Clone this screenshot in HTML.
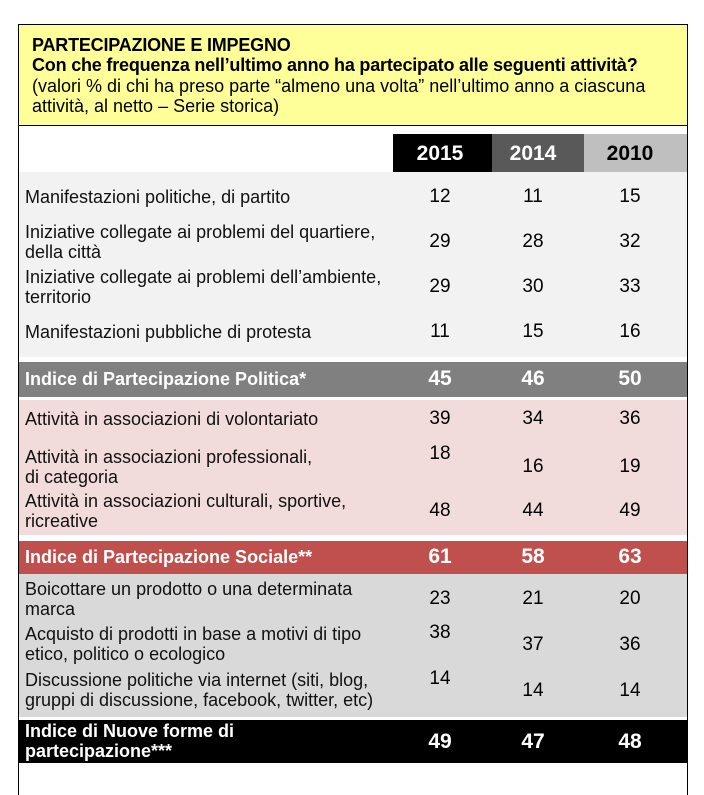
<!DOCTYPE html>
<html><head><meta charset="utf-8"><style>
body{margin:0;width:704px;height:783px;background:#fff;font-family:"Liberation Sans",sans-serif;position:relative;overflow:hidden}
.a{position:absolute}
.box{left:18px;top:24px;width:668px;height:770px;border:1px solid #000;border-bottom:none}
.yel{left:19px;top:25px;width:668px;height:100px;background:#ffff99;border-bottom:1px solid #000}
.t{font-size:18px;line-height:20px;color:#000;white-space:nowrap}
.lab{position:absolute;left:25px;font-size:18px;line-height:20px;color:#111;white-space:nowrap}
.n{position:absolute;font-size:19px;width:60px;text-align:center;margin-left:-30px}
.b{font-weight:bold;font-size:21px}
.w{color:#fff}
</style></head><body>
<div class="a box"></div>
<div class="a yel"></div>
<div class="a t" style="left:32px;top:35px;font-weight:bold;letter-spacing:-0.2px">PARTECIPAZIONE E IMPEGNO<br>Con che frequenza nell’ultimo anno ha partecipato alle seguenti attività?</div>
<div class="a t" style="left:32px;top:76px">(valori % di chi ha preso parte “almeno una volta” nell’ultimo anno a ciascuna<br>attività, al netto – Serie storica)</div>

<div class="a" style="left:393px;top:134px;width:99px;height:38px;background:#000"></div>
<div class="a" style="left:492px;top:134px;width:92px;height:38px;background:#595959"></div>
<div class="a" style="left:584px;top:134px;width:103px;height:38px;background:#bfbfbf"></div>
<div class="n b w" style="left:440px;top:142px">2015</div>
<div class="n b w" style="left:533px;top:142px">2014</div>
<div class="n b" style="left:630px;top:142px">2010</div>

<div class="a" style="left:19px;top:172px;width:668px;height:185px;background:#f2f2f2"></div>
<div class="a" style="left:19px;top:362px;width:668px;height:35px;background:#808080"></div>
<div class="a" style="left:19px;top:400px;width:668px;height:135px;background:#f2dcdb"></div>
<div class="a" style="left:19px;top:541px;width:668px;height:33px;background:#c0504d"></div>
<div class="a" style="left:19px;top:574px;width:668px;height:143px;background:#d9d9d9"></div>
<div class="a" style="left:19px;top:720px;width:668px;height:43px;background:#000"></div>

<div class="lab" style="top:187px">Manifestazioni politiche, di partito</div>
<div class="n" style="left:440px;top:186px">12</div><div class="n" style="left:533px;top:186px">11</div><div class="n" style="left:630px;top:186px">15</div>
<div class="lab" style="top:222px">Iniziative collegate ai problemi del quartiere,<br>della città</div>
<div class="n" style="left:440px;top:231px">29</div><div class="n" style="left:533px;top:231px">28</div><div class="n" style="left:630px;top:231px">32</div>
<div class="lab" style="top:267px">Iniziative collegate ai problemi dell’ambiente,<br>territorio</div>
<div class="n" style="left:440px;top:276px">29</div><div class="n" style="left:533px;top:276px">30</div><div class="n" style="left:630px;top:276px">33</div>
<div class="lab" style="top:322px">Manifestazioni pubbliche di protesta</div>
<div class="n" style="left:440px;top:321px">11</div><div class="n" style="left:533px;top:321px">15</div><div class="n" style="left:630px;top:321px">16</div>

<div class="lab w" style="top:369px;font-weight:bold">Indice di Partecipazione Politica*</div>
<div class="n b w" style="left:440px;top:367px">45</div><div class="n b w" style="left:533px;top:367px">46</div><div class="n b w" style="left:630px;top:367px">50</div>

<div class="lab" style="top:409px">Attività in associazioni di volontariato</div>
<div class="n" style="left:440px;top:408px">39</div><div class="n" style="left:533px;top:408px">34</div><div class="n" style="left:630px;top:408px">36</div>
<div class="lab" style="top:447px">Attività in associazioni professionali,<br>di categoria</div>
<div class="n" style="left:440px;top:443px">18</div><div class="n" style="left:533px;top:456px">16</div><div class="n" style="left:630px;top:456px">19</div>
<div class="lab" style="top:491px">Attività in associazioni culturali, sportive,<br>ricreative</div>
<div class="n" style="left:440px;top:500px">48</div><div class="n" style="left:533px;top:500px">44</div><div class="n" style="left:630px;top:500px">49</div>

<div class="lab w" style="top:547px;font-weight:bold">Indice di Partecipazione Sociale**</div>
<div class="n b w" style="left:440px;top:545px">61</div><div class="n b w" style="left:533px;top:545px">58</div><div class="n b w" style="left:630px;top:545px">63</div>

<div class="lab" style="top:579px">Boicottare un prodotto o una determinata<br>marca</div>
<div class="n" style="left:440px;top:588px">23</div><div class="n" style="left:533px;top:588px">21</div><div class="n" style="left:630px;top:588px">20</div>
<div class="lab" style="top:624px">Acquisto di prodotti in base a motivi di tipo<br>etico, politico o ecologico</div>
<div class="n" style="left:440px;top:622px">38</div><div class="n" style="left:533px;top:634px">37</div><div class="n" style="left:630px;top:634px">36</div>
<div class="lab" style="top:670px">Discussione politiche via internet (siti, blog,<br>gruppi di discussione, facebook, twitter, etc)</div>
<div class="n" style="left:440px;top:668px">14</div><div class="n" style="left:533px;top:680px">14</div><div class="n" style="left:630px;top:680px">14</div>

<div class="lab w" style="top:721px;font-weight:bold">Indice di Nuove forme di<br>partecipazione***</div>
<div class="n b w" style="left:440px;top:730px">49</div><div class="n b w" style="left:533px;top:730px">47</div><div class="n b w" style="left:630px;top:730px">48</div>
</body></html>
